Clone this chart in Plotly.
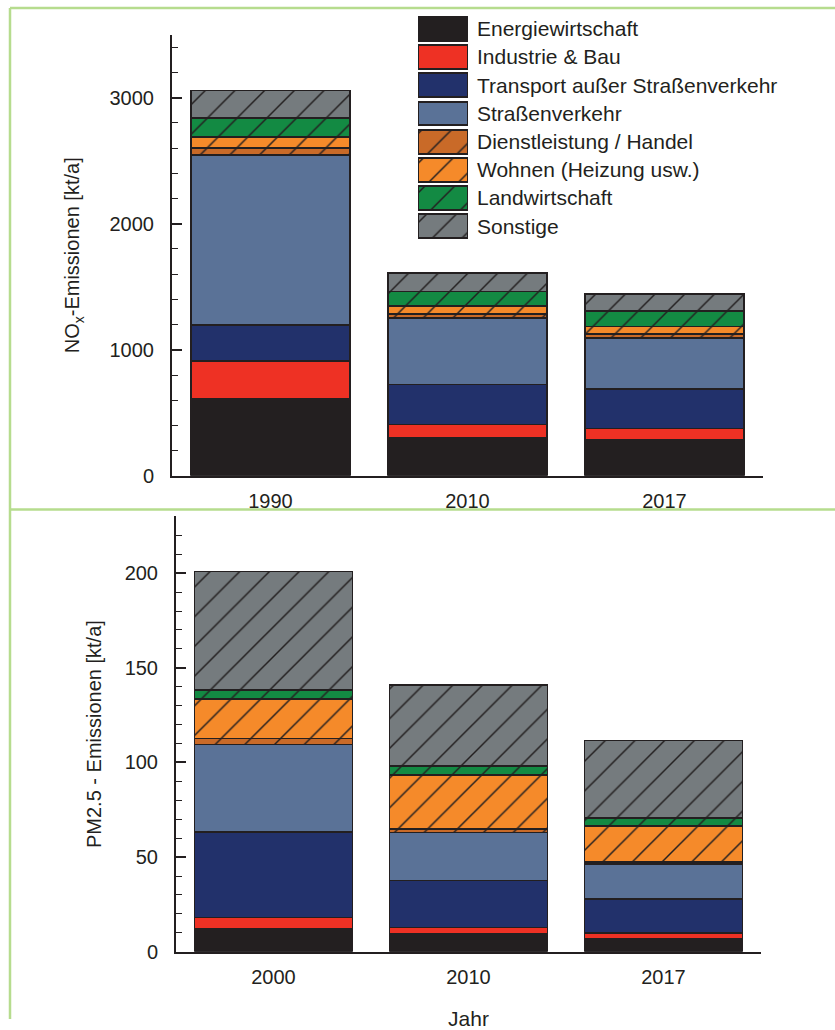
import plotly.graph_objects as go

# Emission sources (stack order, bottom to top)
sources = [
    "Energiewirtschaft",
    "Industrie & Bau",
    "Transport außer Straßenverkehr",
    "Straßenverkehr",
    "Dienstleistung / Handel",
    "Wohnen (Heizung usw.)",
    "Landwirtschaft",
    "Sonstige",
]
fill_colors = ["#231f20", "#ee3124", "#22316b", "#5a7297",
               "#c96a28", "#f58a2a", "#138a43", "#757b7e"]
hatched = [False, False, False, False, True, True, True, True]

# NOx emissions [kt/a]
nox_years = ["1990", "2010", "2017"]
nox_values = {
    "Energiewirtschaft": [610, 302, 290],
    "Industrie & Bau": [303, 106, 87],
    "Transport außer Straßenverkehr": [285, 316, 312],
    "Straßenverkehr": [1347, 526, 403],
    "Dienstleistung / Handel": [55, 34, 31],
    "Wohnen (Heizung usw.)": [90, 64, 61],
    "Landwirtschaft": [147, 113, 124],
    "Sonstige": [221, 149, 134],
}

# PM2.5 emissions [kt/a]
pm_years = ["2000", "2010", "2017"]
pm_values = {
    "Energiewirtschaft": [12.3, 9.6, 7.0],
    "Industrie & Bau": [5.7, 3.2, 3.0],
    "Transport außer Straßenverkehr": [45.3, 24.8, 18.0],
    "Straßenverkehr": [46.2, 25.3, 18.3],
    "Dienstleistung / Handel": [3.2, 2.1, 1.2],
    "Wohnen (Heizung usw.)": [20.9, 28.5, 18.9],
    "Landwirtschaft": [4.8, 4.7, 4.4],
    "Sonstige": [62.5, 42.8, 40.7],
}

# legend swatches span the full width of their small axis
swatch_length = [1]

INK = "#231f20"
FONT = "Liberation Sans, Arial, sans-serif"
W, H = 835, 1030
HATCH_SIZE = 21
HATCH_SOLIDITY = 0.07


def px_x(x):
    return x / W


def px_y(y):
    return 1 - y / H


def marker_for(i, line_width=1.6):
    m = dict(color=fill_colors[i], line=dict(color=INK, width=line_width))
    if hatched[i]:
        m["pattern"] = dict(shape="/", bgcolor=fill_colors[i], fgcolor=INK,
                            fgopacity=1, size=HATCH_SIZE,
                            solidity=HATCH_SOLIDITY)
    return m


fig = go.Figure()

for i, name in enumerate(sources):
    fig.add_trace(go.Bar(x=nox_years, y=nox_values[name], name=name,
                         marker=marker_for(i), width=0.81,
                         xaxis="x", yaxis="y", showlegend=False))
for i, name in enumerate(sources):
    fig.add_trace(go.Bar(x=pm_years, y=pm_values[name], name=name,
                         marker=marker_for(i), width=0.81,
                         xaxis="x2", yaxis="y2", showlegend=False))

# Legend drawn as a small horizontal bar chart so the swatches keep their hatching
for i, name in enumerate(sources):
    fig.add_trace(go.Bar(
        x=swatch_length, y=[name], orientation="h", width=0.84, name=name,
        marker=marker_for(i, line_width=2),
        xaxis="x3", yaxis="y3", showlegend=False, hoverinfo="skip",
    ))

tick_font = dict(family=FONT, size=20, color=INK)

common_y = dict(
    showline=True, linecolor=INK, linewidth=2,
    ticks="inside", ticklen=10, tickwidth=1.6, tickcolor=INK,
    showgrid=False, zeroline=False, tickfont=tick_font,
    ticklabelstandoff=12,
)
common_x = dict(
    showline=True, linecolor=INK, linewidth=2, ticks="",
    showgrid=False, zeroline=False, tickfont=tick_font,
    range=[-0.5, 2.5], type="category", ticklabelstandoff=6,
)

fig.update_layout(
    width=W, height=H,
    margin=dict(l=0, r=0, t=0, b=0),
    paper_bgcolor="white", plot_bgcolor="white",
    barmode="stack",
    font=dict(family=FONT, color=INK),
    xaxis=dict(common_x, domain=[px_x(172), px_x(763)], anchor="y"),
    yaxis=dict(common_y, domain=[px_y(481), px_y(35)], anchor="x",
               range=[0, 3500], dtick=1000,
               minor=dict(dtick=200, ticks="inside", ticklen=6,
                          tickwidth=1.4, tickcolor=INK),
               title=dict(text="NO<sub>x</sub>-Emissionen [kt/a]",
                          font=dict(family=FONT, size=20, color=INK),
                          standoff=24)),
    xaxis2=dict(common_x, domain=[px_x(176), px_x(761)], anchor="y2",
                title=dict(text="Jahr", font=dict(family=FONT, size=21, color=INK),
                           standoff=26)),
    yaxis2=dict(common_y, domain=[px_y(962), px_y(522)], anchor="x2",
                range=[0, 230], dtick=50,
                minor=dict(dtick=10, ticks="inside", ticklen=6,
                           tickwidth=1.4, tickcolor=INK),
                title=dict(text="PM2.5 - Emissionen [kt/a]",
                           font=dict(family=FONT, size=20, color=INK),
                           standoff=18)),
    xaxis3=dict(domain=[px_x(418), px_x(468)], anchor="y3", range=[0, 1],
                visible=False, fixedrange=True),
    yaxis3=dict(domain=[px_y(243), px_y(15)], anchor="x3", side="right",
                range=[len(sources) - 0.5, -0.5], showline=False, ticks="",
                showgrid=False, zeroline=False, ticklabelstandoff=8,
                categoryorder="array", categoryarray=sources,
                tickfont=dict(family=FONT, size=21, color=INK),
                fixedrange=True),
)

# light green panel frames
frame = dict(type="line", xref="paper", yref="paper",
             line=dict(color="#b6dc8e", width=2.5))
fig.add_shape(frame, x0=px_x(10), x1=1, y0=px_y(8), y1=px_y(8))
fig.add_shape(frame, x0=px_x(10), x1=1, y0=px_y(515), y1=px_y(515))
fig.add_shape(frame, x0=px_x(10), x1=px_x(10), y0=px_y(8), y1=0)

fig.write_html("out.html")
